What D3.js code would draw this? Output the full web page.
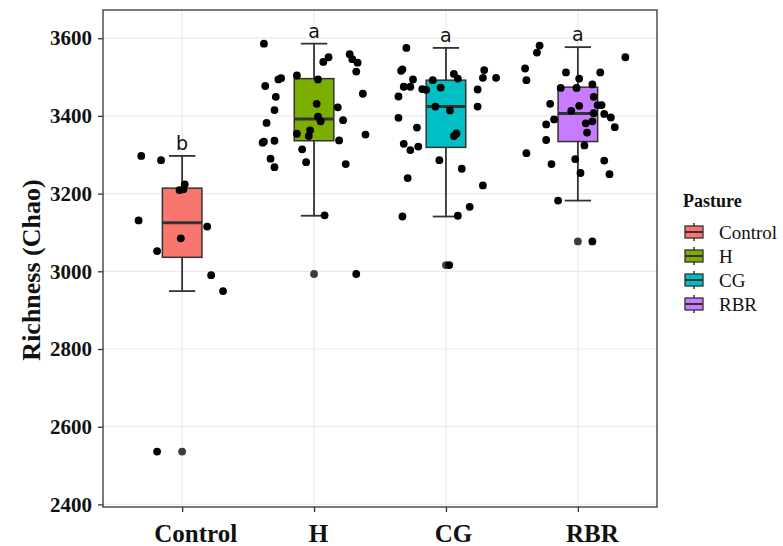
<!DOCTYPE html>
<html>
<head>
<meta charset="utf-8">
<script src="https://cdn.jsdelivr.net/npm/d3@7"></script>
<style>
  body { margin: 0; background: #fff; }
  svg { display: block; }
</style>
</head>
<body>
<div id="app"></div>
<script>
// groups and box stats
const groups = ["Control", "H", "CG", "RBR"];
const fills = ["#F8766D", "#7CAE00", "#00BFC4", "#C77CFF"];
const whiskerLow = [2949, 3143, 3141, 3182];
const q1 = [3036, 3336, 3319, 3334];
const median = [3125, 3392, 3424, 3406];
const q3 = [3214, 3496, 3492, 3474];
const whiskerHigh = [3297, 3586, 3575, 3577];
const outliers = [[2536], [2993], [3016], [3077]];
const letters = ["b", "a", "a", "a"];
const yTicks = [2400, 2600, 2800, 3000, 3200, 3400, 3600];

// jittered samples: value + horizontal jitter (fraction of category step)
const controlValues = [3297, 3286, 3224, 3211, 3209, 3131, 3115, 3085, 3052, 2990, 2949, 2536];
const controlJitter = [-0.31, -0.16, 0.02, 0.01, -0.02, -0.33, 0.19, -0.01, -0.19, 0.22, 0.31, -0.19];

const hValues = [3586, 3551, 3539, 3559, 3546, 3537, 3514, 3497, 3494, 3504, 3494, 3477, 3457, 3449, 3431, 3415, 3422, 3398,
  3386, 3389, 3382, 3354, 3363, 3348, 3352, 3334, 3331, 3336, 3337, 3314, 3290, 3268, 3281, 3276, 3144, 2993];
const hJitter = [-0.38, 0.11, 0.07, 0.27, 0.29, 0.33, 0.32, -0.25, -0.27, -0.13, 0.03, -0.37, 0.37, -0.29, 0.02, -0.30, 0.18, 0.03,
  0.05, 0.22, -0.36, -0.13, -0.03, -0.04, 0.39, -0.38, -0.39, -0.30, 0.19, -0.09, -0.33, -0.30, -0.06, 0.24, 0.08, 0.32];

const cgValues = [3575, 3516, 3520, 3518, 3498, 3498, 3508, 3496, 3494, 3492, 3475, 3475, 3469, 3467, 3473, 3468, 3450, 3424,
  3414, 3424, 3395, 3370, 3355, 3348, 3328, 3321, 3312, 3286, 3264, 3240, 3221, 3166, 3141, 3143, 3016];
const cgJitter = [-0.30, -0.34, -0.33, 0.29, 0.28, 0.38, 0.06, 0.09, -0.25, -0.10, -0.32, -0.27, -0.18, -0.15, -0.04, 0.24, -0.36, -0.08,
  0.03, 0.24, -0.36, -0.22, 0.08, 0.06, -0.32, -0.21, -0.27, -0.05, 0.12, -0.29, 0.28, 0.18, -0.33, 0.09, 0.025];

const rbrValues = [3581, 3563, 3551, 3522, 3492, 3512, 3512, 3496, 3472, 3472, 3481, 3449, 3428, 3428, 3431, 3426, 3413, 3407,
  3405, 3396, 3391, 3378, 3381, 3386, 3371, 3357, 3338, 3324, 3304, 3289, 3285, 3276, 3253, 3250, 3182, 3077];
const rbrJitter = [-0.29, -0.31, 0.36, -0.40, -0.39, -0.09, 0.17, 0.01, -0.13, -0.01, 0.11, 0.12, 0.15, 0.18, -0.21, 0.01, -0.05, 0.12,
  0.20, 0.25, -0.18, -0.24, 0.06, 0.11, 0.28, 0.07, -0.24, 0.05, -0.39, -0.02, 0.20, -0.20, 0.02, 0.24, -0.15, 0.11];

const sampleValues = [controlValues, hValues, cgValues, rbrValues];
const sampleJitter = [controlJitter, hJitter, cgJitter, rbrJitter];

const width = 783, height = 546;
const panel = { left: 103, right: 657, top: 10, bottom: 507 };
const serif = "'Liberation Serif', 'Times New Roman', serif";

const svg = d3.select("#app").append("svg")
  .attr("width", width)
  .attr("height", height);

const x = d3.scalePoint()
  .domain(groups)
  .range([panel.left, panel.right])
  .padding(0.6);

const y = d3.scaleLinear()
  .domain([2393.3, 3672.6])
  .range([panel.bottom, panel.top]);

const step = x.step();
const boxW = step * 0.3;
const capW = step * 0.2;
const ptR = 3.9;

// gridlines
svg.append("g")
  .selectAll("line")
  .data(yTicks)
  .enter()
  .append("line")
  .attr("x1", panel.left).attr("x2", panel.right)
  .attr("y1", d => y(d)).attr("y2", d => y(d))
  .attr("stroke", "#ebebeb").attr("stroke-width", 1.2);

svg.append("g")
  .selectAll("line")
  .data(groups)
  .enter()
  .append("line")
  .attr("x1", d => x(d)).attr("x2", d => x(d))
  .attr("y1", panel.top).attr("y2", panel.bottom)
  .attr("stroke", "#ebebeb").attr("stroke-width", 1.2);

// boxes
const box = svg.append("g")
  .selectAll("g")
  .data(groups)
  .enter()
  .append("g");

box.append("line")
  .attr("x1", d => x(d)).attr("x2", d => x(d))
  .attr("y1", (d, i) => y(whiskerLow[i])).attr("y2", (d, i) => y(whiskerHigh[i]))
  .attr("stroke", "#333").attr("stroke-width", 1.8);

box.selectAll(".cap")
  .data((d, i) => [{ g: d, v: whiskerLow[i] }, { g: d, v: whiskerHigh[i] }])
  .enter()
  .append("line")
  .attr("class", "cap")
  .attr("x1", d => x(d.g) - capW / 2).attr("x2", d => x(d.g) + capW / 2)
  .attr("y1", d => y(d.v)).attr("y2", d => y(d.v))
  .attr("stroke", "#333").attr("stroke-width", 1.8);

box.append("rect")
  .attr("x", d => x(d) - boxW / 2)
  .attr("width", boxW)
  .attr("y", (d, i) => y(q3[i]))
  .attr("height", (d, i) => y(q1[i]) - y(q3[i]))
  .attr("fill", (d, i) => fills[i])
  .attr("stroke", "#333").attr("stroke-width", 1.5);

box.append("line")
  .attr("x1", d => x(d) - boxW / 2).attr("x2", d => x(d) + boxW / 2)
  .attr("y1", (d, i) => y(median[i])).attr("y2", (d, i) => y(median[i]))
  .attr("stroke", "#333").attr("stroke-width", 3);

box.selectAll(".outlier")
  .data((d, i) => outliers[i].map(v => ({ g: d, v: v })))
  .enter()
  .append("circle")
  .attr("class", "outlier")
  .attr("cx", d => x(d.g))
  .attr("cy", d => y(d.v))
  .attr("r", ptR)
  .attr("fill", "#3d3d3d");

// jittered points
const points = [];
groups.forEach((g, i) => {
  sampleValues[i].forEach((v, k) => points.push({ g: g, v: v, j: sampleJitter[i][k] }));
});

svg.append("g")
  .selectAll("circle")
  .data(points)
  .enter()
  .append("circle")
  .attr("cx", d => x(d.g) + d.j * step)
  .attr("cy", d => y(d.v))
  .attr("r", ptR)
  .attr("fill", "#000");

// significance letters
svg.append("g")
  .selectAll("text")
  .data(groups)
  .enter()
  .append("text")
  .attr("x", d => x(d))
  .attr("y", (d, i) => y(whiskerHigh[i]) - 6)
  .attr("text-anchor", "middle")
  .style("font-family", "'DejaVu Sans', sans-serif")
  .style("font-size", "19px")
  .attr("fill", "#111")
  .text((d, i) => letters[i]);

// panel border
svg.append("rect")
  .attr("x", panel.left).attr("y", panel.top)
  .attr("width", panel.right - panel.left)
  .attr("height", panel.bottom - panel.top)
  .attr("fill", "none")
  .attr("stroke", "#333").attr("stroke-width", 1.3);

// axes
const yAxis = svg.append("g")
  .attr("transform", `translate(${panel.left},0)`)
  .call(d3.axisLeft(y).tickValues(yTicks).tickSize(5).tickPadding(6).tickFormat(d3.format("d")));
yAxis.select(".domain").remove();
yAxis.selectAll(".tick line").attr("stroke", "#333").attr("stroke-width", 1.3);
yAxis.selectAll(".tick text")
  .style("font-family", serif)
  .style("font-size", "21px")
  .style("font-weight", "bold")
  .attr("fill", "#111");

// labels in the figure sit a little right of their ticks
const labelShift = [13, 4, 7, 14];
const xAxis = svg.append("g")
  .attr("transform", `translate(0,${panel.bottom})`)
  .call(d3.axisBottom(x).tickSize(5).tickPadding(12));
xAxis.select(".domain").remove();
xAxis.selectAll(".tick line").attr("stroke", "#333").attr("stroke-width", 1.3);
xAxis.selectAll(".tick text")
  .attr("dx", (d, i) => labelShift[i])
  .style("font-family", serif)
  .style("font-size", "25px")
  .style("font-weight", "bold")
  .attr("fill", "#111");

// y title
svg.append("text")
  .attr("transform", "translate(40,270) rotate(-90)")
  .attr("text-anchor", "middle")
  .style("font-family", serif)
  .style("font-size", "26px")
  .style("font-weight", "bold")
  .attr("fill", "#111")
  .text("Richness (Chao)");

// legend
const legend = svg.append("g").attr("transform", "translate(683,0)");
legend.append("text")
  .attr("x", 0).attr("y", 207)
  .style("font-family", serif)
  .style("font-size", "18px")
  .style("font-weight", "bold")
  .attr("fill", "#111")
  .text("Pasture");

const item = legend.selectAll(".item")
  .data(groups)
  .enter()
  .append("g")
  .attr("class", "item")
  .attr("transform", (d, i) => `translate(0,${232 + i * 24})`);

item.append("line")
  .attr("x1", 11).attr("x2", 11).attr("y1", -9).attr("y2", 9)
  .attr("stroke", "#333").attr("stroke-width", 1.5);
item.append("rect")
  .attr("x", 2).attr("y", -6).attr("width", 18).attr("height", 12)
  .attr("fill", (d, i) => fills[i])
  .attr("stroke", "#333").attr("stroke-width", 1.3);
item.append("line")
  .attr("x1", 2).attr("x2", 20).attr("y1", 0).attr("y2", 0)
  .attr("stroke", "#333").attr("stroke-width", 2);
item.append("text")
  .attr("x", 36).attr("y", 0)
  .attr("dy", "0.35em")
  .style("font-family", serif)
  .style("font-size", "19px")
  .attr("fill", "#111")
  .text(d => d);
</script>
</body>
</html>
